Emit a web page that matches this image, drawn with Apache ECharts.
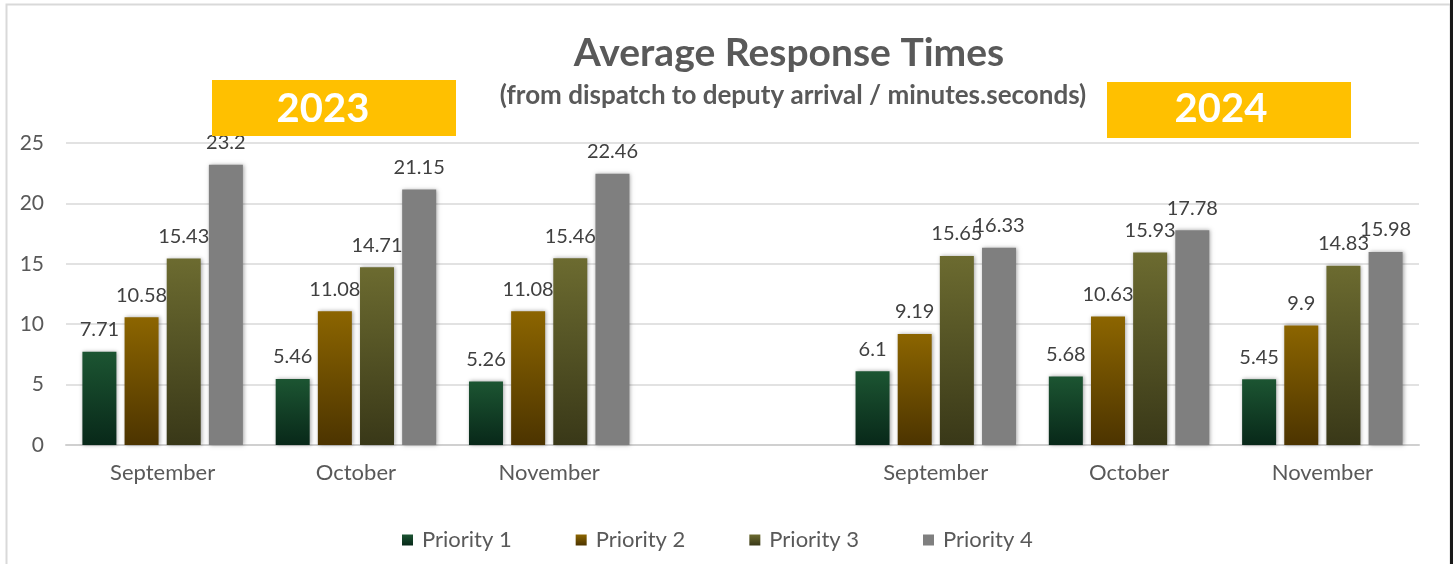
<!DOCTYPE html>
<html>
<head>
<meta charset="utf-8">
<script src="https://cdn.jsdelivr.net/npm/echarts@6/dist/echarts.min.js"></script>
<style>
html,body{margin:0;padding:0;background:#fff;}
#chart{width:1453px;height:564px;}
</style>
</head>
<body>
<div id="chart"></div>
<script>
var categories = ['September', 'October', 'November', '', 'September', 'October', 'November'];
var priority1 = [7.71, 5.46, 5.26, null, 6.1, 5.68, 5.45];
var priority2 = [10.58, 11.08, 11.08, null, 9.19, 10.63, 9.9];
var priority3 = [15.43, 14.71, 15.46, null, 15.65, 15.93, 14.83];
var priority4 = [23.2, 21.15, 22.46, null, 16.33, 17.78, 15.98];
var seriesNames = ['Priority 1', 'Priority 2', 'Priority 3', 'Priority 4'];
var yearLabels = ['2023', '2024'];
var titleText = 'Average Response Times';
var subtitleText = '(from dispatch to deputy arrival / minutes.seconds)';

var FONT = 'Lato, "Open Sans", sans-serif';
function grad(top, bottom) {
  return new echarts.graphic.LinearGradient(0, 0, 0, 1, [
    {offset: 0, color: top}, {offset: 1, color: bottom}
  ]);
}
var colors = [
  grad('#1c5532', '#082819'),
  grad('#8c6500', '#4c3400'),
  grad('#6c6b30', '#393818'),
  '#7f7f7f'
];
var datasets = [priority1, priority2, priority3, priority4];

var chart = echarts.init(document.getElementById('chart'), null, {renderer: 'canvas'});
var series = datasets.map(function (d, i) {
  return {
    name: seriesNames[i],
    type: 'bar',
    data: d,
    barWidth: 34,
    barGap: '24%',
    itemStyle: {
      color: colors[i],
      shadowBlur: 4,
      shadowColor: 'rgba(0,0,0,0.35)',
      shadowOffsetX: 1,
      shadowOffsetY: 0
    },
    label: {
      show: true,
      position: 'top',
      distance: 12,
      color: '#404040',
      fontFamily: FONT,
      fontSize: 20
    }
  };
});

chart.setOption({
  animation: false,
  backgroundColor: '#fff',
  title: [
    {
      text: titleText,
      left: 784, top: 29, textAlign: 'center',
      textStyle: {fontFamily: FONT, fontSize: 39, fontWeight: 'bold', color: '#595959'}
    },
    {
      text: subtitleText,
      left: 788, top: 78, textAlign: 'center',
      textStyle: {fontFamily: FONT, fontSize: 26, fontWeight: 'bold', color: '#595959'}
    }
  ],
  grid: {left: 66, right: 34, top: 143, bottom: 119, containLabel: false},
  legend: {
    data: seriesNames,
    bottom: 8,
    left: 397,
    itemWidth: 11,
    itemHeight: 11,
    itemGap: 64,
    icon: 'rect',
    textStyle: {fontFamily: FONT, fontSize: 22, color: '#595959', padding: [0, 0, 0, 4]}
  },
  xAxis: {
    type: 'category',
    data: categories,
    axisLine: {lineStyle: {color: '#d0d0d0', width: 2}},
    axisTick: {show: false},
    axisLabel: {fontFamily: FONT, fontSize: 22, color: '#595959', margin: 17}
  },
  yAxis: {
    type: 'value',
    min: 0, max: 25, interval: 5,
    axisLine: {show: false},
    axisTick: {show: false},
    axisLabel: {fontFamily: FONT, fontSize: 21, color: '#595959', margin: 22},
    splitLine: {lineStyle: {color: '#d9d9d9', width: 1.5}}
  },
  series: series,
  graphic: [
    {type: 'rect', z: 0, silent: true, shape: {x: 6.5, y: 4.5, width: 1444, height: 600},
     style: {fill: 'none', stroke: '#d9d9d9', lineWidth: 2}},
    {type: 'rect', z: 1, silent: true, shape: {x: 1450, y: 0, width: 3, height: 564},
     style: {fill: '#1a1a1a'}},
    {type: 'rect', z: 100, silent: true, shape: {x: 212, y: 80, width: 244, height: 56},
     style: {fill: '#FFC000'}},
    {type: 'text', z: 101, silent: true, x: 323, y: 109,
     style: {text: yearLabels[0], fill: '#fff', font: 'bold 40px ' + FONT, textAlign: 'center', textVerticalAlign: 'middle'}},
    {type: 'rect', z: 100, silent: true, shape: {x: 1107, y: 82, width: 244, height: 56},
     style: {fill: '#FFC000'}},
    {type: 'text', z: 101, silent: true, x: 1221, y: 109,
     style: {text: yearLabels[1], fill: '#fff', font: 'bold 40px ' + FONT, textAlign: 'center', textVerticalAlign: 'middle'}}
  ]
});
</script>
</body>
</html>
